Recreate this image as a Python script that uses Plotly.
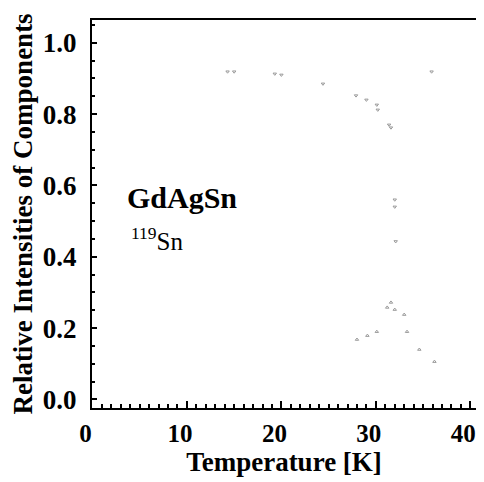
import plotly.graph_objects as go

# Upper component
upper_T = [14.3, 15.0, 19.3, 20.0, 24.4, 27.9, 29.0, 30.1, 30.2, 31.4, 31.6, 32.0, 32.0, 32.1, 35.9]
upper_I = [0.919, 0.919, 0.913, 0.910, 0.885, 0.852, 0.840, 0.826, 0.812, 0.770, 0.762, 0.560, 0.540, 0.443, 0.919]

# Lower component
lower_T = [28.0, 29.1, 30.1, 31.2, 31.6, 32.0, 33.0, 33.3, 34.6, 36.2]
lower_I = [0.168, 0.179, 0.190, 0.258, 0.272, 0.252, 0.238, 0.190, 0.140, 0.106]

x_ticks = [0, 10, 20, 30, 40]
y_ticks = [0.0, 0.2, 0.4, 0.6, 0.8, 1.0]
y_tick_labels = ["0.0", "0.2", "0.4", "0.6", "0.8", "1.0"]

serif = "Liberation Serif"

fig = go.Figure()
fig.add_trace(go.Scatter(x=upper_T, y=upper_I, mode="markers",
                         marker=dict(symbol="triangle-down-open", size=3, color="#9a9a9a",
                                     line=dict(width=1, color="#9a9a9a")),
                         showlegend=False))
fig.add_trace(go.Scatter(x=lower_T, y=lower_I, mode="markers",
                         marker=dict(symbol="triangle-up-open", size=3, color="#9a9a9a",
                                     line=dict(width=1, color="#9a9a9a")),
                         showlegend=False))

fig.add_annotation(x=9.5, y=0.566, xref="x", yref="y", text="<b>GdAgSn</b>",
                   showarrow=False, font=dict(family=serif, size=30, color="black"))
fig.add_annotation(x=6.9, y=0.45, xref="x", yref="y",
                   text="<sup>119</sup>Sn", showarrow=False,
                   font=dict(family=serif, size=25, color="black"))

fig.update_layout(
    width=476, height=474,
    margin=dict(l=84, r=8, t=12, b=74),
    plot_bgcolor="white", paper_bgcolor="white",
    font=dict(family=serif, color="black"),
)
fig.update_xaxes(
    automargin=False,
    range=[-0.05, 40.6], tickvals=x_ticks, ticktext=[f"<b>{v}</b>" for v in x_ticks],
    tickfont=dict(family=serif, size=25), ticklabelshift=-7, ticklabelstandoff=2,
    ticks="inside", ticklen=7, tickwidth=1.5, tickcolor="black",
    minor=dict(dtick=1, ticks="inside", ticklen=4, tickcolor="black"),
    showline=True, linecolor="black", linewidth=2, mirror=True,
    showgrid=False, zeroline=False,
    title=dict(text="<b>Temperature [K]</b>", font=dict(family=serif, size=27), standoff=2),
)
fig.update_yaxes(
    automargin=False,
    range=[-0.024, 1.064], tickvals=y_ticks, ticktext=[f"<b>{t}</b>" for t in y_tick_labels],
    tickfont=dict(family=serif, size=27), ticklabelstandoff=8,
    ticks="inside", ticklen=5, tickwidth=1.5, tickcolor="black",
    minor=dict(dtick=0.05, ticks="inside", ticklen=3, tickcolor="black"),
    showline=True, linecolor="black", linewidth=2, mirror=True,
    showgrid=False, zeroline=False,
    title=dict(text="<b>Relative Intensities of Components</b>", font=dict(family=serif, size=27), standoff=16),
)

fig.write_html("out.html")
